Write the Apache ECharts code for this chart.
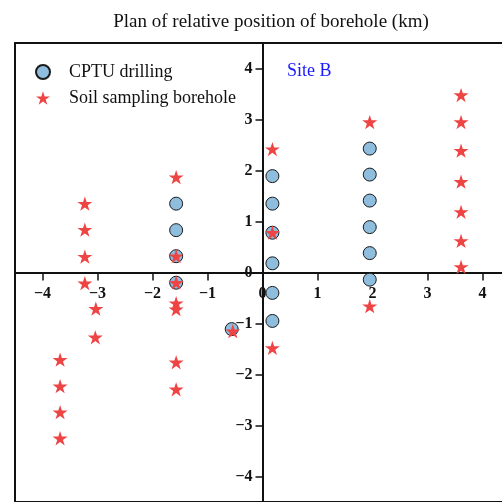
<!DOCTYPE html>
<html>
<head>
<meta charset="utf-8">
<script src="https://cdn.jsdelivr.net/npm/echarts@6/dist/echarts.min.js"></script>
<style>
  html, body { margin: 0; padding: 0; background: #ffffff; }
  #chart { width: 502px; height: 502px; }
</style>
</head>
<body>
<div id="chart"></div>
<script>
// Borehole positions relative to the site origin, in km (east, north)
const cptuEast  = [0.18, 0.18, 0.18, 0.18, 0.18, 0.18,
                   1.95, 1.95, 1.95, 1.95, 1.95, 1.95,
                   -1.57, -1.57, -1.57, -1.57,
                   -0.56];
const cptuNorth = [1.89, 1.35, 0.78, 0.18, -0.40, -0.95,
                   2.43, 1.92, 1.41, 0.89, 0.38, -0.14,
                   1.35, 0.83, 0.32, -0.20,
                   -1.11];

const sampleEast  = [3.61, 3.61, 3.61, 3.61, 3.61, 3.61, 3.61,
                     1.95, 1.95,
                     0.18, 0.18, 0.18,
                     -1.57, -1.57, -1.57, -1.57, -1.57, -1.57, -1.57,
                     -3.23, -3.23, -3.23, -3.23,
                     -3.03, -3.04,
                     -3.68, -3.68, -3.68, -3.68,
                     -0.54];
const sampleNorth = [3.48, 2.95, 2.39, 1.78, 1.19, 0.62, 0.11,
                     2.95, -0.66,
                     2.42, 0.78, -1.48,
                     1.87, 0.32, -0.20, -0.60, -0.72, -1.76, -2.29,
                     1.35, 0.84, 0.31, -0.21,
                     -0.71, -1.27,
                     -1.71, -2.23, -2.74, -3.25,
                     -1.15];

const seriesNames = ['CPTU drilling', 'Soil sampling borehole'];
const titleText = 'Plan of relative position of borehole (km)';
const siteLabel = 'Site B';
const axisExtent = [-4.5, 4.5];

const pair = (xs, ys) => xs.map((x, i) => [x, ys[i]]);

const STAR = 'path://M50 0 L61.23 34.55 L97.55 34.55 L68.16 55.9 L79.39 90.45 L50 69.1 L20.61 90.45 L31.84 55.9 L2.45 34.55 L38.77 34.55 Z';
const SERIF = '"Liberation Serif", "Times New Roman", serif';

const tickText = v => {
  if (!Number.isInteger(v)) return '';
  return v < 0 ? '\u2212' + (-v) : String(v);
};

// plot box, in px
const GRID = { left: 15, top: 43, width: 495, height: 459 };

const axisCommon = {
  type: 'value',
  min: axisExtent[0],
  max: axisExtent[1],
  minInterval: 1,
  maxInterval: 1,
  splitLine: { show: false },
  axisLine: { onZero: false, lineStyle: { color: '#111', width: 2 } },
  axisTick: { show: true, lineStyle: { color: '#111', width: 1.5 } },
  axisLabel: {
    showMinLabel: false,
    showMaxLabel: false,
    color: '#111',
    fontFamily: SERIF,
    fontWeight: 'bold',
    fontSize: 16,
    formatter: tickText
  }
};

const chart = echarts.init(document.getElementById('chart'), null, { renderer: 'canvas' });
chart.setOption({
  animation: false,
  backgroundColor: '#ffffff',
  title: {
    text: titleText,
    left: 266,
    textAlign: 'center',
    top: 8,
    textStyle: { fontFamily: SERIF, fontWeight: 'normal', fontSize: 19, color: '#111' }
  },
  legend: {
    data: seriesNames,
    orient: 'vertical',
    left: 30,
    top: 58,
    itemWidth: 14,
    itemHeight: 14,
    itemGap: 8,
    textStyle: { fontFamily: SERIF, fontSize: 18, color: '#111', padding: [0, 0, 0, 14] }
  },
  grid: Object.assign({
    show: true,
    borderColor: '#111',
    borderWidth: 2,
    outerBoundsMode: 'none'
  }, GRID),
  // axes cross at the origin in the middle of the box
  xAxis: Object.assign({}, axisCommon, {
    position: 'bottom',
    offset: -GRID.height / 2,
    axisTick: Object.assign({}, axisCommon.axisTick, { length: 8 }),
    axisLabel: Object.assign({}, axisCommon.axisLabel, { margin: 13 })
  }),
  yAxis: Object.assign({}, axisCommon, {
    position: 'left',
    offset: -GRID.width / 2,
    axisTick: Object.assign({}, axisCommon.axisTick, { length: 7 }),
    axisLabel: Object.assign({}, axisCommon.axisLabel, { margin: 10 })
  }),
  graphic: [{
    type: 'text',
    left: 287,
    top: 62,
    style: { text: siteLabel, fill: '#1a1aff', font: '18px ' + SERIF }
  }],
  series: [
    {
      name: seriesNames[0],
      type: 'scatter',
      symbol: 'circle',
      symbolSize: 13,
      itemStyle: { color: '#8fbddd', borderColor: '#1a1a1a', borderWidth: 1, opacity: 1 },
      data: pair(cptuEast, cptuNorth),
      z: 2
    },
    {
      name: seriesNames[1],
      type: 'scatter',
      symbol: STAR,
      symbolSize: 15,
      symbolKeepAspect: true,
      itemStyle: { color: '#ef4444', opacity: 1 },
      data: pair(sampleEast, sampleNorth),
      z: 3
    }
  ]
});
</script>
</body>
</html>
